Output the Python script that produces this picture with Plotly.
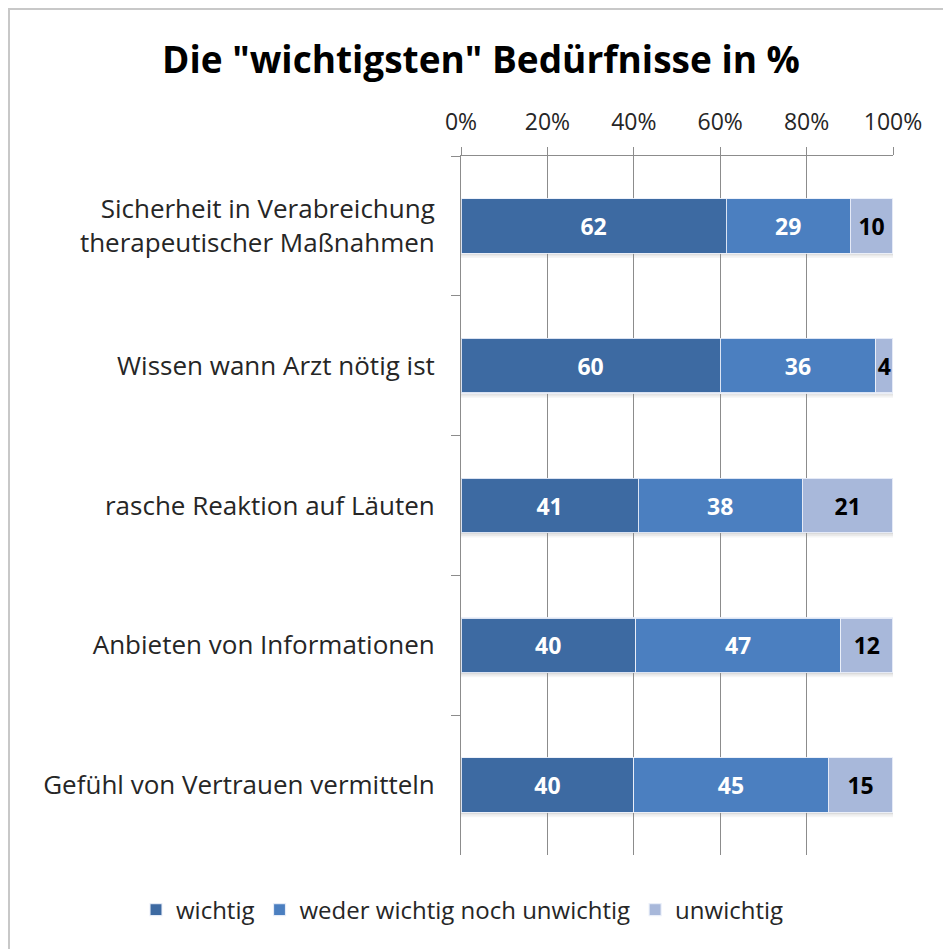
import plotly.graph_objects as go

# Survey categories (top to bottom) and answer shares per category
categories = [
    "Sicherheit in Verabreichung<br>therapeutischer Maßnahmen",
    "Wissen wann Arzt nötig ist",
    "rasche Reaktion auf Läuten",
    "Anbieten von Informationen",
    "Gefühl von Vertrauen vermitteln",
]
wichtig = [62, 60, 41, 40, 40]
weder = [29, 36, 38, 47, 45]
unwichtig = [10, 4, 21, 12, 15]

series_names = ["wichtig", "weder wichtig noch unwichtig", "unwichtig"]
series_values = [wichtig, weder, unwichtig]
series_colors = ["#3D6AA2", "#4B7FC0", "#A8B8DA"]
label_colors = ["white", "white", "black"]

x_ticks = [0, 20, 40, 60, 80, 100]

W, H = 943, 949
M_L, M_R, M_T, M_B = 461, 50, 156, 94
PW = W - M_L - M_R
PH = H - M_T - M_B
BARGAP = 0.61

FONT = "'Open Sans', Lato, sans-serif"

fig = go.Figure()
for name, vals, col, tcol in zip(series_names, series_values, series_colors, label_colors):
    fig.add_trace(go.Bar(
        y=categories,
        x=vals,
        name=name,
        orientation="h",
        marker=dict(color=col, line=dict(color="rgba(235,240,250,0.9)", width=1.2)),
        text=[str(v) for v in vals],
        textposition="inside",
        insidetextanchor="middle",
        constraintext="none",
        textfont=dict(family=FONT, size=23, color=tcol, weight="bold"),
        hoverinfo="skip",
    ))


def px_x(p):
    return (p - M_L) / PW


def px_y(p):
    return (M_T + PH - p) / PH


# soft drop shadow under each bar (category units; axis is reversed, so + is down)
px_per_cat = PH / len(categories)
half_bar = (1 - BARGAP) / 2
shadow_shapes = []
for i in range(len(categories)):
    for k, op in enumerate([0.22, 0.13, 0.06]):
        shadow_shapes.append(dict(
            type="rect", xref="x", yref="y",
            x0=0, x1=100,
            y0=i + half_bar + k * 1.6 / px_per_cat,
            y1=i + half_bar + (k + 1) * 1.6 / px_per_cat,
            line=dict(width=0),
            fillcolor=f"rgba(90,90,90,{op})",
            layer="below",
        ))

frame = dict(
    type="rect", xref="paper", yref="paper",
    x0=px_x(9), x1=px_x(W + 5), y0=px_y(H + 5), y1=px_y(9),
    line=dict(color="#C8C8C8", width=2),
    fillcolor="rgba(0,0,0,0)",
    layer="below",
)

fig.update_layout(
    width=W,
    height=H,
    margin=dict(l=M_L, r=M_R, t=M_T, b=M_B),
    barmode="stack",
    barnorm="percent",
    bargap=BARGAP,
    paper_bgcolor="white",
    plot_bgcolor="white",
    font=dict(family=FONT, color="#262626"),
    title=dict(
        text='Die "wichtigsten" Bedürfnisse in %',
        x=481 / W, xanchor="center",
        y=1 - 60 / H, yanchor="middle",
        font=dict(family=FONT, size=37, color="black", weight="bold"),
    ),
    legend=dict(
        orientation="h",
        x=px_x(136), xanchor="left",
        y=px_y(910), yanchor="middle",
        font=dict(family=FONT, size=24, color="#262626"),
        traceorder="normal",
        itemwidth=30,
    ),
    showlegend=True,
    xaxis=dict(
        side="top",
        range=[0, 100],
        tickvals=x_ticks,
        ticktext=[f"{v}%" for v in x_ticks],
        showgrid=True,
        gridcolor="#8C8C8C",
        gridwidth=1,
        showline=True,
        linecolor="#8C8C8C",
        linewidth=1,
        ticks="outside",
        ticklen=8,
        tickcolor="#8C8C8C",
        ticklabelstandoff=8,
        tickfont=dict(family=FONT, size=23, color="#262626"),
        zeroline=False,
        fixedrange=True,
    ),
    yaxis=dict(
        categoryorder="array",
        categoryarray=categories,
        autorange="reversed",
        showline=True,
        linecolor="#8C8C8C",
        linewidth=1,
        ticks="outside",
        tickson="boundaries",
        ticklen=9,
        tickcolor="#8C8C8C",
        ticklabelstandoff=20,
        tickfont=dict(family=FONT, size=26, color="#262626"),
        showgrid=False,
        fixedrange=True,
    ),
    shapes=[frame] + shadow_shapes,
)

fig.write_html("out.html")
